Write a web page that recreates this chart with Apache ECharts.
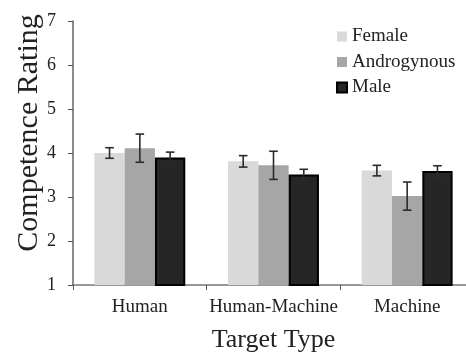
<!DOCTYPE html>
<html><head><meta charset="utf-8">
<script src="https://cdn.jsdelivr.net/npm/echarts@6/dist/echarts.min.js"></script>
<style>html,body{margin:0;padding:0;background:#fff}#c{width:466px;height:354px}</style>
</head><body><div id="c"></div>
<script>
var categories = ['Human', 'Human-Machine', 'Machine'];
var seriesNames = ['Female', 'Androgynous', 'Male'];
var femaleVals = [4.00, 3.81, 3.60];
var androVals = [4.11, 3.72, 3.02];
var maleVals = [3.90, 3.51, 3.59];
var femaleErr = [0.12, 0.13, 0.12];
var androErr = [0.32, 0.32, 0.32];
var maleErr = [0.12, 0.12, 0.12];
var yTicks = [1, 2, 3, 4, 5, 6, 7];

var FONT = 'Liberation Serif';
var colors = ['#d9d9d9', '#a6a6a6', '#262626'];
var vals = [femaleVals, androVals, maleVals];
var errs = [femaleErr, androErr, maleErr];
var CAT_GAP = 0.32;

function errSeries(idx) {
  var data = categories.map(function (c, i) { return [i, vals[idx][i], errs[idx][i]]; });
  return {
    type: 'custom',
    z: 10,
    silent: true,
    data: data,
    renderItem: function (params, api) {
      var ci = api.value(0), v = api.value(1), e = api.value(2);
      var cw = api.size([1, 0])[0];
      var bw = cw * (1 - CAT_GAP) / 3;
      var c = api.coord([ci, v]);
      var x = c[0] + (idx - 1) * bw;
      var top = api.coord([ci, v + e])[1];
      var bot = api.coord([ci, v - e])[1];
      var hw = 4.3;
      var st = { stroke: '#2b2b2b', lineWidth: 1.6 };
      return { type: 'group', children: [
        { type: 'line', shape: { x1: x, y1: top, x2: x, y2: bot }, style: st },
        { type: 'line', shape: { x1: x - hw, y1: top, x2: x + hw, y2: top }, style: st },
        { type: 'line', shape: { x1: x - hw, y1: bot, x2: x + hw, y2: bot }, style: st }
      ]};
    }
  };
}

var series = seriesNames.map(function (n, i) {
  return {
    name: n, type: 'bar', data: vals[i],
    barGap: '0%', barCategoryGap: (CAT_GAP * 100) + '%',
    itemStyle: i === 2 ? { color: colors[i], borderColor: '#000', borderWidth: 2 } : { color: colors[i] }
  };
});
series = series.concat([errSeries(0), errSeries(1), errSeries(2)]);

var chart = echarts.init(document.getElementById('c'), null, { renderer: 'canvas' });
chart.setOption({
  animation: false,
  backgroundColor: '#fff',
  textStyle: { fontFamily: FONT },
  grid: { left: 73, right: -8, top: 21, bottom: 69, containLabel: false, outerBoundsMode: 'none' },
  legend: {
    orient: 'vertical', left: 331, top: 22,
    itemWidth: 10, itemHeight: 10, itemGap: 6.5,
    icon: 'rect',
    data: seriesNames,
    textStyle: { fontFamily: FONT, fontSize: 19, color: '#222' }
  },
  xAxis: {
    type: 'category', data: categories,
    name: 'Target Type', nameLocation: 'middle', nameGap: 42, nameMoveOverlap: false,
    nameTextStyle: { fontFamily: FONT, fontSize: 26, color: '#222' },
    axisLine: { lineStyle: { color: '#777', width: 1.5 } },
    axisTick: { show: true, length: 5, lineStyle: { color: '#555' } },
    axisLabel: { fontFamily: FONT, fontSize: 19, color: '#222', margin: 13, interval: 0, hideOverlap: false }
  },
  yAxis: {
    type: 'value', min: 1, max: 7, interval: 1,
    name: 'Competence Rating', nameLocation: 'middle', nameGap: 29, nameRotate: 90, nameMoveOverlap: false,
    nameTextStyle: { fontFamily: FONT, fontSize: 30, color: '#222', padding: [0, 0, 0, 40] },
    axisLine: { show: true, lineStyle: { color: '#666', width: 1.5 } },
    axisTick: { show: true, length: 5, lineStyle: { color: '#555' } },
    splitLine: { show: false },
    axisLabel: { fontFamily: FONT, fontSize: 18, color: '#222', margin: 17,
      formatter: function (v) { return yTicks.indexOf(v) >= 0 ? String(v) : ''; } }
  },
  series: series
});
</script></body></html>
